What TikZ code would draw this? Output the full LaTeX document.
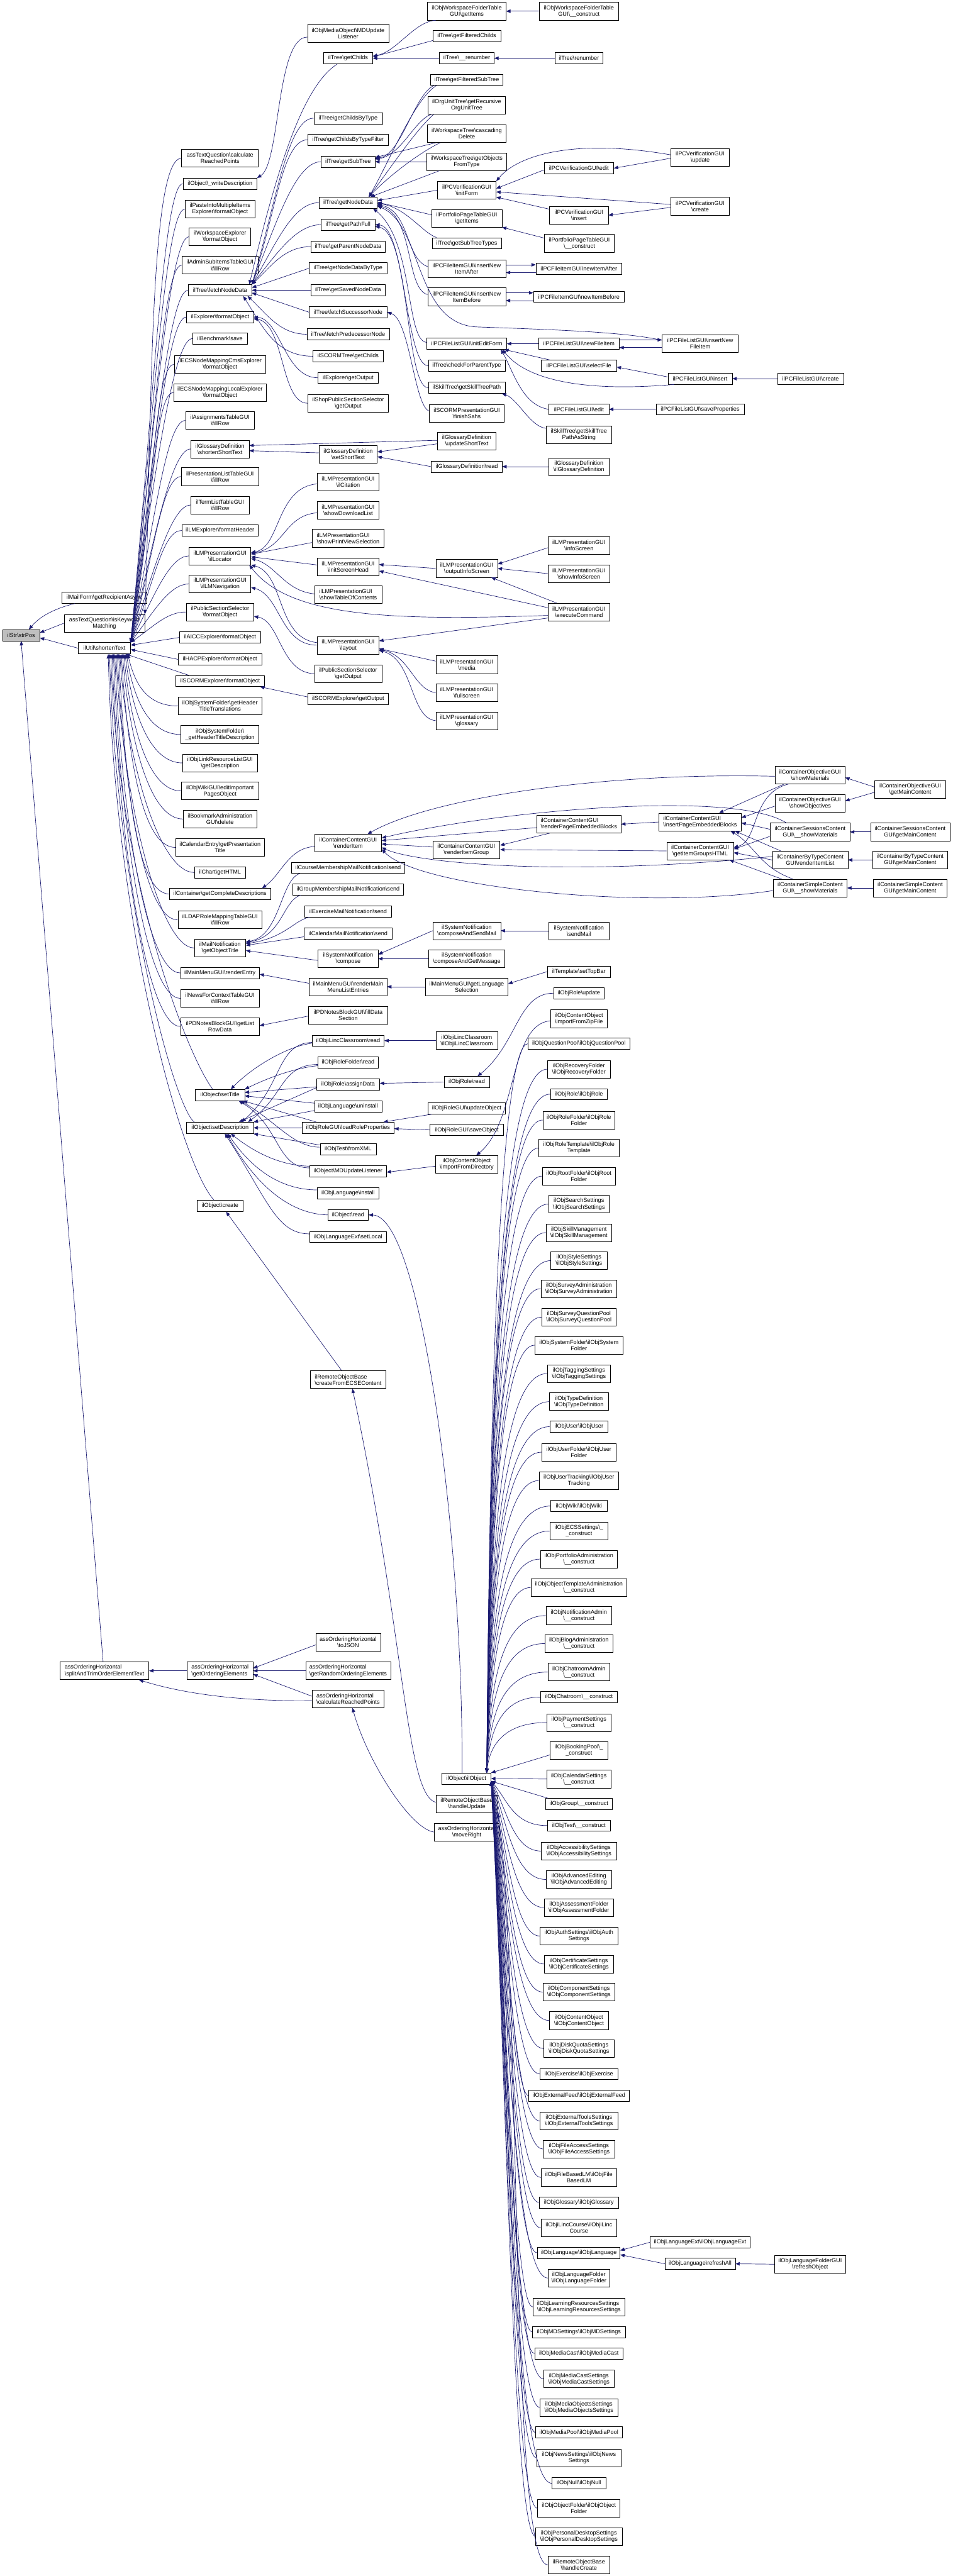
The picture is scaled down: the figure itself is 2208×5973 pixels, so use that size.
\documentclass[tikz,border=0pt]{standalone}
\usepackage{fontspec}
\setmainfont{Liberation Sans}
\usetikzlibrary{arrows.meta}
\definecolor{edgec}{HTML}{191970}
\definecolor{rootfill}{HTML}{BFBFBF}
\newcommand\bs{\textbackslash}
\tikzset{
 box/.style={draw=black, line width=0.9pt, fill=white, inner sep=2pt, align=center, text=black, font=\fontsize{13.3pt}{14.6pt}\selectfont},
 e/.style={draw=edgec, line width=1pt, {Triangle[length=10pt,width=8pt]}-},
}
\newcommand\na[5]{\node[box,minimum width=#4pt,minimum height=26pt] (#1) at (#2,#3) {#5};}
\newcommand\nb[6][center]{\node[box,align=#1,minimum width=#5pt,minimum height=41pt] (#2) at (#3,#4) {#6};}
\begin{document}
\begin{tikzpicture}[x=1pt,y=-1pt]
\fill[white] (0,0) rectangle (2208,5973);
\useasboundingbox (0,0) rectangle (2208,5973);
% ---------- root and level 1
\node[box,fill=rootfill,minimum width=86pt,minimum height=26pt] (strpos) at (49,1473) {ilStr\bs strPos};
\na{mailform}{242}{1386}{196}{ilMailForm\bs getRecipientAsync}
\nb{keyword}{242}{1445}{187}{assTextQuestion\bs isKeyword\\Matching}
\na{util}{242}{1503}{121}{ilUtil\bs shortenText}
\nb[left]{split}{242}{3874}{206}{assOrderingHorizontal\\\bs splitAndTrimOrderElementText}
% ---------- column A
\nb{calcrp}{510}{367}{178}{assTextQuestion\bs calculate\\ReachedPoints}
\na{writedesc}{510}{426}{171}{ilObject\bs \_writeDescription}
\nb{paste}{510}{485}{162}{ilPasteIntoMultipleItems\\Explorer\bs formatObject}
\nb{wsexpl}{510}{549}{143}{ilWorkspaceExplorer\\\bs formatObject}
\nb{adminsub}{510}{615}{177}{ilAdminSubItemsTableGUI\\\bs fillRow}
\na{fetchnd}{510}{673}{147}{ilTree\bs fetchNodeData}
\na{explfo}{510}{735}{155}{ilExplorer\bs formatObject}
\na{bench}{510}{785}{127}{ilBenchmark\bs save}
\nb{ecscms}{510}{845}{212}{ilECSNodeMappingCmsExplorer\\\bs formatObject}
\nb{ecsloc}{510}{910}{214}{ilECSNodeMappingLocalExplorer\\\bs formatObject}
\nb{assign}{510}{975}{160}{ilAssignmentsTableGUI\\\bs fillRow}
\nb{glshort}{510}{1041}{135}{ilGlossaryDefinition\\\bs shortenShortText}
\nb{preslist}{510}{1105}{179}{ilPresentationListTableGUI\\\bs fillRow}
\nb{termlist}{510}{1171}{135}{ilTermListTableGUI\\\bs fillRow}
\na{lmexpl}{510}{1230}{177}{ilLMExplorer\bs formatHeader}
\nb{locator}{510}{1289}{143}{ilLMPresentationGUI\\\bs ilLocator}
\nb{lmnav}{510}{1354}{143}{ilLMPresentationGUI\\\bs ilLMNavigation}
\nb{pssfo}{510}{1419}{156}{ilPublicSectionSelector\\\bs formatObject}
\na{aicc}{510}{1478}{187}{ilAICCExplorer\bs formatObject}
\na{hacp}{510}{1529}{193}{ilHACPExplorer\bs formatObject}
\na{scormfo}{510}{1579}{205}{ilSCORMExplorer\bs formatObject}
\nb{sfttrans}{510}{1637}{193}{ilObjSystemFolder\bs getHeader\\TitleTranslations}
\nb{sftdesc}{510}{1703}{181}{ilObjSystemFolder\bs \\\_getHeaderTitleDescription}
\nb{linkres}{510}{1769}{173}{ilObjLinkResourceListGUI\\\bs getDescription}
\nb{wikigui}{510}{1834}{179}{ilObjWikiGUI\bs editImportant\\PagesObject}
\nb{bookmark}{510}{1899}{171}{ilBookmarkAdministration\\GUI\bs delete}
\nb{calentry}{510}{1965}{206}{ilCalendarEntry\bs getPresentation\\Title}
\na{chart}{510}{2023}{119}{ilChart\bs getHTML}
\na{compdesc}{510}{2073}{234}{ilContainer\bs getCompleteDescriptions}
\nb{ldap}{510}{2133}{195}{ilLDAPRoleMappingTableGUI\\\bs fillRow}
\nb{mailnotif}{510}{2198}{119}{ilMailNotification\\\bs getObjectTitle}
\na{mmrender}{510}{2256}{183}{ilMainMenuGUI\bs renderEntry}
\nb{news}{510}{2315}{183}{ilNewsForContextTableGUI\\\bs fillRow}
\nb{pdnotes}{510}{2380}{183}{ilPDNotesBlockGUI\bs getList\\RowData}
\na{settitle}{510}{2539}{114}{ilObject\bs setTitle}
\na{setdesc}{510}{2615}{155}{ilObject\bs setDescription}
\na{objcreate}{510}{2796}{107}{ilObject\bs create}
\nb[left]{ordelems}{510}{3874}{153}{assOrderingHorizontal\\\bs getOrderingElements}
% ---------- column B
\nb{mdul}{807}{77}{188}{ilObjMediaObject\bs MDUpdate\\Listener}
\na{getchilds}{807}{135}{114}{ilTree\bs getChilds}
\na{gcbt}{807}{274}{159}{ilTree\bs getChildsByType}
\na{gcbtf}{807}{324}{186}{ilTree\bs getChildsByTypeFilter}
\na{getsubtree}{807}{375}{125}{ilTree\bs getSubTree}
\na{getnd}{807}{470}{135}{ilTree\bs getNodeData}
\na{getpath}{807}{521}{125}{ilTree\bs getPathFull}
\na{getparent}{807}{572}{173}{ilTree\bs getParentNodeData}
\na{getndtype}{807}{622}{180}{ilTree\bs getNodeDataByType}
\na{getsaved}{807}{673}{172}{ilTree\bs getSavedNodeData}
\na{fetchsucc}{807}{724}{180}{ilTree\bs fetchSuccessorNode}
\na{fetchpred}{807}{775}{191}{ilTree\bs fetchPredecessorNode}
\na{scormtree}{807}{826}{163}{ilSCORMTree\bs getChilds}
\na{explout}{807}{876}{139}{ilExplorer\bs getOutput}
\nb{shopout}{807}{935}{187}{ilShopPublicSectionSelector\\\bs getOutput}
\nb{glsetshort}{807}{1053}{135}{ilGlossaryDefinition\\\bs setShortText}
\nb{citation}{807}{1118}{143}{ilLMPresentationGUI\\\bs ilCitation}
\nb{dllist}{807}{1183}{143}{ilLMPresentationGUI\\\bs showDownloadList}
\nb[left]{printview}{807}{1248}{167}{ilLMPresentationGUI\\\bs showPrintViewSelection}
\nb{initscreen}{807}{1314}{143}{ilLMPresentationGUI\\\bs initScreenHead}
\nb[left]{toc}{807}{1379}{156}{ilLMPresentationGUI\\\bs showTableOfContents}
\nb{layout}{807}{1496}{143}{ilLMPresentationGUI\\\bs layout}
\nb{pssout}{807}{1562}{156}{ilPublicSectionSelector\\\bs getOutput}
\na{scormout}{807}{1620}{187}{ilSCORMExplorer\bs getOutput}
\nb{renderitem}{807}{1955}{155}{ilContainerContentGUI\\\bs renderItem}
\na{cmms}{807}{2012}{263}{ilCourseMembershipMailNotification\bs send}
\na{gmms}{807}{2062}{256}{ilGroupMembershipMailNotification\bs send}
\na{exms}{807}{2113}{202}{ilExerciseMailNotification\bs send}
\na{calms}{807}{2164}{203}{ilCalendarMailNotification\bs send}
\nb{sncomp}{807}{2223}{139}{ilSystemNotification\\\bs compose}
\nb{mmrml}{807}{2288}{180}{ilMainMenuGUI\bs renderMain\\MenuListEntries}
\nb{pdfill}{807}{2354}{184}{ilPDNotesBlockGUI\bs fillData\\Section}
\na{ilincread}{807}{2413}{167}{ilObjiLincClassroom\bs read}
\na{rfread}{807}{2463}{140}{ilObjRoleFolder\bs read}
\na{assigndata}{807}{2514}{146}{ilObjRole\bs assignData}
\na{languninst}{807}{2565}{156}{ilObjLanguage\bs uninstall}
\na{loadrole}{807}{2615}{213}{ilObjRoleGUI\bs loadRoleProperties}
\na{testxml}{807}{2665}{130}{ilObjTest\bs fromXML}
\na{objmdul}{807}{2716}{178}{ilObject\bs MDUpdateListener}
\na{langinst}{807}{2767}{143}{ilObjLanguage\bs install}
\na{objread}{807}{2817}{94}{ilObject\bs read}
\na{setlocal}{807}{2868}{178}{ilObjLanguageExt\bs setLocal}
\nb[left]{ecse}{807}{3199}{174}{ilRemoteObjectBase\\\bs createFromECSEContent}
\nb{tojson}{807}{3808}{150}{assOrderingHorizontal\\\bs toJSON}
\nb[left]{randord}{807}{3874}{197}{assOrderingHorizontal\\\bs getRandomOrderingElements}
\nb[left]{ordcalc}{807}{3939}{167}{assOrderingHorizontal\\\bs calculateReachedPoints}
% ---------- column C
\nb{wsgetitems}{1082}{26}{182}{ilObjWorkspaceFolderTable\\GUI\bs getItems}
\na{getfiltchilds}{1082}{84}{157}{ilTree\bs getFilteredChilds}
\na{urenumber}{1082}{135}{127}{ilTree\bs \_\_renumber}
\na{getfiltsub}{1082}{185}{168}{ilTree\bs getFilteredSubTree}
\nb{orgunit}{1082}{244}{180}{ilOrgUnitTree\bs getRecursive\\OrgUnitTree}
\nb{wscasc}{1082}{310}{182}{ilWorkspaceTree\bs cascading\\Delete}
\nb{wsobjtype}{1082}{375}{186}{ilWorkspaceTree\bs getObjects\\FromType}
\nb{pcvinit}{1082}{441}{136}{ilPCVerificationGUI\\\bs initForm}
\nb{ppgetitems}{1082}{506}{163}{ilPortfolioPageTableGUI\\\bs getItems}
\na{subtreetypes}{1082}{564}{160}{ilTree\bs getSubTreeTypes}
\nb{niafter}{1082}{623}{181}{ilPCFileItemGUI\bs insertNew\\ItemAfter}
\nb{nibefore}{1082}{688}{181}{ilPCFileItemGUI\bs insertNew\\ItemBefore}
\na{initedit}{1082}{797}{185}{ilPCFileListGUI\bs initEditForm}
\na{checkparent}{1082}{848}{178}{ilTree\bs checkForParentType}
\na{skillpath}{1082}{899}{178}{ilSkillTree\bs getSkillTreePath}
\nb{finishsahs}{1082}{958}{174}{ilSCORMPresentationGUI\\\bs finishSahs}
\nb{glupdate}{1082}{1023}{135}{ilGlossaryDefinition\\\bs updateShortText}
\na{glread}{1082}{1082}{164}{ilGlossaryDefinition\bs read}
\nb{outinfo}{1082}{1318}{143}{ilLMPresentationGUI\\\bs outputInfoScreen}
\nb{lmmedia}{1082}{1541}{143}{ilLMPresentationGUI\\\bs media}
\nb{lmfull}{1082}{1606}{143}{ilLMPresentationGUI\\\bs fullscreen}
\nb{lmgloss}{1082}{1671}{143}{ilLMPresentationGUI\\\bs glossary}
\nb{renderig}{1081}{1970}{156}{ilContainerContentGUI\\\bs renderItemGroup}
\nb{sncsend}{1082}{2158}{157}{ilSystemNotification\\\bs composeAndSendMail}
\nb{sncget}{1082}{2223}{176}{ilSystemNotification\\\bs composeAndGetMessage}
\nb{mmlang}{1082}{2288}{191}{ilMainMenuGUI\bs getLanguage\\Selection}
\nb{ilinccons}{1082}{2413}{143}{ilObjiLincClassroom\\\bs ilObjiLincClassroom}
\na{roleread}{1082}{2509}{105}{ilObjRole\bs read}
\na{roleupdobj}{1082}{2570}{180}{ilObjRoleGUI\bs updateObject}
\na{rolesave}{1082}{2620}{170}{ilObjRoleGUI\bs saveObject}
\nb{impdir}{1082}{2700}{145}{ilObjContentObject\\\bs importFromDirectory}
\na{ilobject}{1081}{4124}{114}{ilObject\bs ilObject}
\nb{handleupd}{1082}{4183}{143}{ilRemoteObjectBase\\\bs handleUpdate}
\nb{moveright}{1082}{4248}{151}{assOrderingHorizontal\\\bs moveRight}
% ---------- column D
\nb{wscons}{1342}{26}{184}{ilObjWorkspaceFolderTable\\GUI\bs \_\_construct}
\na{renumber}{1342}{135}{112}{ilTree\bs renumber}
\na{pcvedit}{1342}{390}{161}{ilPCVerificationGUI\bs edit}
\nb{pcvinsert}{1342}{499}{136}{ilPCVerificationGUI\\\bs insert}
\nb{ppcons}{1343}{564}{162}{ilPortfolioPageTableGUI\\\bs \_\_construct}
\na{newafter}{1342}{623}{199}{ilPCFileItemGUI\bs newItemAfter}
\na{newbefore}{1342}{688}{211}{ilPCFileItemGUI\bs newItemBefore}
\na{newfileitem}{1342}{797}{187}{ilPCFileListGUI\bs newFileItem}
\na{selectfile}{1342}{848}{174}{ilPCFileListGUI\bs selectFile}
\na{pcfledit}{1342}{949}{139}{ilPCFileListGUI\bs edit}
\nb{skillstr}{1342}{1008}{152}{ilSkillTree\bs getSkillTree\\PathAsString}
\nb{glcons}{1342}{1082}{139}{ilGlossaryDefinition\\\bs ilGlossaryDefinition}
\nb{infoscreen}{1342}{1265}{143}{ilLMPresentationGUI\\\bs infoScreen}
\nb{showinfo}{1342}{1330}{143}{ilLMPresentationGUI\\\bs showInfoScreen}
\nb{execcmd}{1342}{1419}{143}{ilLMPresentationGUI\\\bs executeCommand}
\nb[left]{rpeb}{1342}{1911}{195}{ilContainerContentGUI\\\bs renderPageEmbeddedBlocks}
\nb{sendmail}{1342}{2158}{139}{ilSystemNotification\\\bs sendMail}
\na{settopbar}{1342}{2253}{147}{ilTemplate\bs setTopBar}
\na{roleupdate}{1342}{2303}{118}{ilObjRole\bs update}
\nb{impzip}{1342}{2362}{132}{ilObjContentObject\\\bs importFromZipFile}
\na{qpool}{1342}{2420}{235}{ilObjQuestionPool\bs ilObjQuestionPool}
\nb{recovery}{1342}{2479}{145}{ilObjRecoveryFolder\\\bs ilObjRecoveryFolder}
\na{roleobj}{1342}{2537}{132}{ilObjRole\bs ilObjRole}
\nb{rolefolder}{1342}{2597}{167}{ilObjRoleFolder\bs ilObjRole\\Folder}
\nb{roletempl}{1342}{2662}{187}{ilObjRoleTemplate\bs ilObjRole\\Template}
\nb{rootfolder}{1342}{2727}{170}{ilObjRootFolder\bs ilObjRoot\\Folder}
\nb{search}{1342}{2792}{141}{ilObjSearchSettings\\\bs ilObjSearchSettings}
\nb{skillmgmt}{1342}{2858}{152}{ilObjSkillManagement\\\bs ilObjSkillManagement}
\nb{style}{1342}{2923}{130}{ilObjStyleSettings\\\bs ilObjStyleSettings}
\nb{survey}{1342}{2988}{176}{ilObjSurveyAdministration\\\bs ilObjSurveyAdministration}
\nb{surveyqp}{1342}{3054}{172}{ilObjSurveyQuestionPool\\\bs ilObjSurveyQuestionPool}
\nb{sysfolder}{1342}{3119}{204}{ilObjSystemFolder\bs ilObjSystem\\Folder}
\nb{tagging}{1342}{3185}{147}{ilObjTaggingSettings\\\bs ilObjTaggingSettings}
\nb{typedef}{1342}{3250}{136}{ilObjTypeDefinition\\\bs ilObjTypeDefinition}
\na{user}{1342}{3308}{135}{ilObjUser\bs ilObjUser}
\nb{userfolder}{1342}{3367}{172}{ilObjUserFolder\bs ilObjUser\\Folder}
\nb{usertrack}{1342}{3433}{185}{ilObjUserTracking\bs ilObjUser\\Tracking}
\na{wiki}{1342}{3492}{130}{ilObjWiki\bs ilObjWiki}
\nb{ecsset}{1342}{3550}{135}{ilObjECSSettings\bs \_\\\_construct}
\nb{portfolio}{1342}{3615}{179}{ilObjPortfolioAdministration\\\bs \_\_construct}
\nb{objtempl}{1342}{3681}{223}{ilObjObjectTemplateAdministration\\\bs \_\_construct}
\nb{notifadmin}{1342}{3746}{151}{ilObjNotificationAdmin\\\bs \_\_construct}
\nb{blogadmin}{1342}{3811}{158}{ilObjBlogAdministration\\\bs \_\_construct}
\nb{chatadmin}{1342}{3877}{143}{ilObjChatroomAdmin\\\bs \_\_construct}
\na{chatroom}{1342}{3935}{177}{ilObjChatroom\bs \_\_construct}
\nb{payment}{1342}{3994}{148}{ilObjPaymentSettings\\\bs \_\_construct}
\nb{booking}{1342}{4059}{133}{ilObjBookingPool\bs \_\\\_construct}
\nb{calset}{1342}{4125}{148}{ilObjCalendarSettings\\\bs \_\_construct}
\na{group}{1342}{4183}{154}{ilObjGroup\bs \_\_construct}
\na{testcons}{1342}{4233}{147}{ilObjTest\bs \_\_construct}
\nb{access}{1342}{4292}{175}{ilObjAccessibilitySettings\\\bs ilObjAccessibilitySettings}
\nb{advedit}{1342}{4358}{151}{ilObjAdvancedEditing\\\bs ilObjAdvancedEditing}
\nb{assessfolder}{1342}{4423}{161}{ilObjAssessmentFolder\\\bs ilObjAssessmentFolder}
\nb{auth}{1342}{4489}{180}{ilObjAuthSettings\bs ilObjAuth\\Settings}
\nb{cert}{1342}{4554}{160}{ilObjCertificateSettings\\\bs ilObjCertificateSettings}
\nb{component}{1342}{4619}{167}{ilObjComponentSettings\\\bs ilObjComponentSettings}
\nb{contentobj}{1342}{4685}{136}{ilObjContentObject\\\bs ilObjContentObject}
\nb{diskquota}{1342}{4750}{163}{ilObjDiskQuotaSettings\\\bs ilObjDiskQuotaSettings}
\na{exercise}{1342}{4809}{180}{ilObjExercise\bs ilObjExercise}
\na{extfeed}{1342}{4859}{232}{ilObjExternalFeed\bs ilObjExternalFeed}
\nb{exttools}{1342}{4918}{180}{ilObjExternalToolsSettings\\\bs ilObjExternalToolsSettings}
\nb{fileaccess}{1342}{4983}{165}{ilObjFileAccessSettings\\\bs ilObjFileAccessSettings}
\nb{filelm}{1342}{5049}{175}{ilObjFileBasedLM\bs ilObjFile\\BasedLM}
\na{glossary}{1342}{5107}{183}{ilObjGlossary\bs ilObjGlossary}
\nb{ilinccourse}{1342}{5166}{175}{ilObjiLincCourse\bs ilObjiLinc\\Course}
\na{language}{1342}{5224}{191}{ilObjLanguage\bs ilObjLanguage}
\nb{langfolder}{1342}{5282}{143}{ilObjLanguageFolder\\\bs ilObjLanguageFolder}
\nb[left]{learnres}{1342}{5349}{213}{ilObjLearningResourcesSettings\\\bs ilObjLearningResourcesSettings}
\na{mdset}{1342}{5407}{216}{ilObjMDSettings\bs ilObjMDSettings}
\na{mediacast}{1342}{5457}{205}{ilObjMediaCast\bs ilObjMediaCast}
\nb{mediacastset}{1342}{5516}{163}{ilObjMediaCastSettings\\\bs ilObjMediaCastSettings}
\nb{mediaobjset}{1342}{5582}{180}{ilObjMediaObjectsSettings\\\bs ilObjMediaObjectsSettings}
\na{mediapool}{1342}{5640}{200}{ilObjMediaPool\bs ilObjMediaPool}
\nb{newsset}{1342}{5699}{196}{ilObjNewsSettings\bs ilObjNews\\Settings}
\na{objnull}{1342}{5758}{125}{ilObjNull\bs ilObjNull}
\nb{objfolder}{1342}{5816}{191}{ilObjObjectFolder\bs ilObjObject\\Folder}
\nb{pdset}{1342}{5881}{200}{ilObjPersonalDesktopSettings\\\bs ilObjPersonalDesktopSettings}
\nb{handlecreate}{1342}{5947}{143}{ilRemoteObjectBase\\\bs handleCreate}
% ---------- column E
\nb{pcvupdate}{1623}{365}{136}{ilPCVerificationGUI\\\bs update}
\nb{pcvcreate}{1623}{478}{136}{ilPCVerificationGUI\\\bs create}
\nb{insnewfile}{1623}{797}{176}{ilPCFileListGUI\bs insertNew\\FileItem}
\na{pcflinsert}{1623}{878}{149}{ilPCFileListGUI\bs insert}
\na{saveprops}{1623}{949}{204}{ilPCFileListGUI\bs saveProperties}
\nb[left]{ipeb}{1623}{1906}{191}{ilContainerContentGUI\\\bs insertPageEmbeddedBlocks}
\nb{getighta}{1623}{1973}{155}{ilContainerContentGUI\\\bs getItemGroupsHTML}
\na{langext}{1623}{5199}{231}{ilObjLanguageExt\bs ilObjLanguageExt}
\na{refreshall}{1623}{5249}{163}{ilObjLanguage\bs refreshAll}
% ---------- column F
\na{pcflcreate}{1879}{878}{153}{ilPCFileListGUI\bs create}
\nb{objshowmat}{1878}{1797}{162}{ilContainerObjectiveGUI\\\bs showMaterials}
\nb{objshowobj}{1878}{1863}{162}{ilContainerObjectiveGUI\\\bs showObjectives}
\nb{sessshowmat}{1878}{1929}{184}{ilContainerSessionsContent\\GUI\bs \_\_showMaterials}
\nb{bytyperender}{1878}{1994}{175}{ilContainerByTypeContent\\GUI\bs renderItemList}
\nb{simpleshowmat}{1878}{2059}{171}{ilContainerSimpleContent\\GUI\bs \_\_showMaterials}
\nb{refreshobj}{1878}{5250}{165}{ilObjLanguageFolderGUI\\\bs refreshObject}
% ---------- column G
\nb{objmain}{2110}{1831}{164}{ilContainerObjectiveGUI\\\bs getMainContent}
\nb{sessmain}{2110}{1929}{184}{ilContainerSessionsContent\\GUI\bs getMainContent}
\nb{bytypemain}{2110}{1994}{174}{ilContainerByTypeContent\\GUI\bs getMainContent}
\nb{simplemain}{2110}{2059}{171}{ilContainerSimpleContent\\GUI\bs getMainContent}

% ================= edges (arrow at callee)
% root
\draw[e] ([xshift=18pt]strpos.north) .. controls (100,1420) and (150,1405) .. ([xshift=30pt]mailform.south west);
\draw[e] ([yshift=6pt]strpos.east) -- (keyword.west);
\draw[e] ([yshift=-6pt]strpos.east) -- (util.west);
\draw[e] (strpos.south) -- ([xshift=-3pt]split.north);
\draw[e] (keyword.north east) .. controls (352,1000) and (345,367) .. (calcrp.west);
% ilUtil fan above
\draw[e] (util.north east) .. controls (358,905) and (380,426) .. (writedesc.west);
\draw[e] (util.north east) .. controls (358,937) and (384,485) .. (paste.west);
\draw[e] (util.north east) .. controls (358,972) and (394,549) .. (wsexpl.west);
\draw[e] (util.north east) .. controls (358,1009) and (377,615) .. (adminsub.west);
\draw[e] (util.north east) .. controls (358,1041) and (392,673) .. (fetchnd.west);
\draw[e] (util.north east) .. controls (358,1075) and (388,735) .. (explfo.west);
\draw[e] (util.north east) .. controls (358,1102) and (402,785) .. (bench.west);
\draw[e] (util.north east) .. controls (358,1135) and (360,845) .. (ecscms.west);
\draw[e] (util.north east) .. controls (358,1171) and (358,910) .. (ecsloc.west);
\draw[e] (util.north east) .. controls (358,1207) and (386,975) .. (assign.west);
\draw[e] (util.north east) .. controls (358,1243) and (398,1041) .. (glshort.west);
\draw[e] (util.north east) .. controls (358,1278) and (376,1105) .. (preslist.west);
\draw[e] (util.north east) .. controls (358,1315) and (398,1171) .. (termlist.west);
\draw[e] (util.north east) .. controls (358,1347) and (377,1230) .. (lmexpl.west);
\draw[e] (util.north east) .. controls (358,1379) and (394,1289) .. (locator.west);
\draw[e] (util.north east) .. controls (358,1415) and (394,1354) .. (lmnav.west);
\draw[e] (util.north east) .. controls (358,1451) and (387,1419) .. (pssfo.west);
\draw[e] ([yshift=7pt]util.east) -- (aicc.west);
\draw[e] ([yshift=-3pt]util.east) -- (hacp.west);
\draw[e] ([xshift=-12pt]util.south east) -- ([xshift=30pt]scormfo.north west);
% ilUtil fan below
\draw[e] ([xshift=-7pt]util.south east) .. controls (311,1576) and (334,1637) .. (sfttrans.west);
\draw[e] ([xshift=-10pt]util.south east) .. controls (308,1609) and (340,1703) .. (sftdesc.west);
\draw[e] ([xshift=-13pt]util.south east) .. controls (305,1642) and (344,1769) .. (linkres.west);
\draw[e] ([xshift=-16pt]util.south east) .. controls (302,1675) and (341,1834) .. (wikigui.west);
\draw[e] ([xshift=-19pt]util.south east) .. controls (299,1707) and (345,1899) .. (bookmark.west);
\draw[e] ([xshift=-22pt]util.south east) .. controls (296,1740) and (327,1965) .. (calentry.west);
\draw[e] ([xshift=-25pt]util.south east) .. controls (293,1769) and (371,2023) .. (chart.west);
\draw[e] ([xshift=-28pt]util.south east) .. controls (290,1794) and (313,2073) .. (compdesc.west);
\draw[e] ([xshift=-31pt]util.south east) .. controls (287,1824) and (333,2133) .. (ldap.west);
\draw[e] ([xshift=-34pt]util.south east) .. controls (284,1857) and (371,2198) .. (mailnotif.west);
\draw[e] ([xshift=-37pt]util.south east) .. controls (281,1886) and (339,2256) .. (mmrender.west);
\draw[e] ([xshift=-40pt]util.south east) .. controls (278,1915) and (339,2315) .. (news.west);
\draw[e] ([xshift=-43pt]util.south east) .. controls (275,1948) and (339,2380) .. (pdnotes.west);
\draw[e] ([xshift=-46pt]util.south east) .. controls (272,2030) and (430,2440) .. ([xshift=-17pt]settitle.north);
\draw[e] ([xshift=-49pt]util.south east) .. controls (269,2060) and (400,2560) .. ([xshift=18pt]setdesc.north west);
\draw[e] ([xshift=-52pt]util.south east) .. controls (266,2150) and (420,2700) .. ([xshift=-14pt]objcreate.north);
% fetchNodeData fan
\draw[e] ([xshift=-6pt]fetchnd.north east) .. controls (640,400) and (700,200) .. ([xshift=-25pt]getchilds.south);
\draw[e] (fetchnd.north east) .. controls (640,468) and (667,274) .. (gcbt.west);
\draw[e] (fetchnd.north east) .. controls (640,492) and (654,324) .. (gcbtf.west);
\draw[e] (fetchnd.north east) .. controls (640,518) and (685,375) .. (getsubtree.west);
\draw[e] (fetchnd.north east) .. controls (640,565) and (679,470) .. (getnd.west);
\draw[e] (fetchnd.north east) .. controls (640,591) and (685,521) .. (getpath.west);
\draw[e] (fetchnd.north east) .. controls (630,616) and (660,572) .. (getparent.west);
\draw[e] ([yshift=6pt]fetchnd.east) -- (getndtype.west);
\draw[e] (fetchnd.east) -- (getsaved.west);
\draw[e] ([yshift=-6pt]fetchnd.east) -- (fetchsucc.west);
\draw[e] ([xshift=-10pt]fetchnd.south east) .. controls (620,730) and (650,775) .. (fetchpred.west);
\draw[e] ([xshift=-20pt]fetchnd.south east) .. controls (610,760) and (640,826) .. (scormtree.west);
% others col A
\draw[e] (writedesc.north east) .. controls (650,380) and (640,86) .. ([yshift=-9pt]mdul.west);
\draw[e] (explfo.east) .. controls (650,740) and (660,876) .. (explout.west);
\draw[e] ([yshift=-4pt]explfo.east) .. controls (660,750) and (650,935) .. (shopout.west);
% getChilds
\draw[e] ([yshift=5pt]getchilds.east) .. controls (920,120) and (960,50) .. ([xshift=20pt]wsgetitems.south west);
\draw[e] ([yshift=3pt]getchilds.east) -- ([yshift=-10pt]getfiltchilds.west);
\draw[e] (getchilds.east) -- (urenumber.west);
\draw[e] (urenumber.east) -- (renumber.west);
\draw[e] (wsgetitems.east) -- (wscons.west);
% getSubTree
\draw[e] ([yshift=8pt]getsubtree.east) .. controls (930,360) and (960,220) .. ([xshift=8pt]getfiltsub.south west);
\draw[e] ([yshift=6pt]getsubtree.east) .. controls (930,360) and (960,280) .. ([xshift=8pt]orgunit.south west);
\draw[e] ([yshift=10pt]getsubtree.east) -- ([xshift=20pt]wscasc.south west);
\draw[e] (getsubtree.east) -- (wsobjtype.west);
% getNodeData
\draw[e] ([xshift=-20pt]getnd.north east) .. controls (900,380) and (960,230) .. ([xshift=14pt]getfiltsub.south west);
\draw[e] ([xshift=-20pt]getnd.north east) .. controls (905,390) and (965,300) .. ([xshift=14pt]orgunit.south west);
\draw[e] ([xshift=-20pt]getnd.north east) .. controls (910,400) and (980,350) .. ([xshift=30pt]wscasc.south west);
\draw[e] ([xshift=-16pt]getnd.north east) -- ([xshift=30pt]wsobjtype.south west);
\draw[e] ([yshift=5pt]getnd.east) -- (pcvinit.west);
\draw[e] ([yshift=1pt]getnd.east) -- ([yshift=8pt]ppgetitems.west);
\draw[e] ([yshift=-2pt]getnd.east) .. controls (940,480) and (980,540) .. ([xshift=10pt]subtreetypes.north west);
\draw[e] ([yshift=-4pt]getnd.east) .. controls (950,490) and (940,600) .. ([yshift=5pt]niafter.west);
\draw[e] ([yshift=-6pt]getnd.east) .. controls (960,500) and (940,670) .. ([yshift=5pt]nibefore.west);
\draw[e] ([yshift=-8pt]getnd.east) .. controls (980,520) and (960,750) .. (1104,758) .. controls (1300,765) and (1450,770) .. ([yshift=8pt]insnewfile.west);
\draw[e] ([xshift=-10pt]getnd.south east) .. controls (960,560) and (940,790) .. ([yshift=3pt]initedit.west);
% getPathFull, fetchSuccessorNode
\draw[e] (getpath.east) .. controls (940,525) and (940,848) .. (checkparent.west);
\draw[e] ([yshift=-4pt]getpath.east) .. controls (950,540) and (940,899) .. (skillpath.west);
\draw[e] (fetchsucc.east) .. controls (950,740) and (960,940) .. ([yshift=5pt]finishsahs.west);
% PC verification
\draw[e] (pcvinit.north east) .. controls (1200,360) and (1330,320) .. ([yshift=6pt]pcvupdate.west);
\draw[e] ([yshift=4pt]pcvinit.east) -- ([yshift=-4pt]pcvedit.west);
\draw[e] ([yshift=-4pt]pcvinit.east) -- ([yshift=4pt]pcvcreate.west);
\draw[e] ([yshift=-16pt]pcvinit.east) -- ([yshift=14pt]pcvinsert.west);
\draw[e] (pcvedit.east) -- ([yshift=-2pt]pcvupdate.west);
\draw[e] (pcvinsert.east) -- ([yshift=-3pt]pcvcreate.west);
\draw[e] (ppgetitems.south east) -- ([yshift=12pt]ppcons.west);
% PC file items
\draw[e] ([yshift=9pt]newafter.west) -- ([yshift=9pt]niafter.east);
\draw[e] ([yshift=-9pt]niafter.east) -- ([yshift=-9pt]newafter.west);
\draw[e] ([yshift=9pt]newbefore.west) -- ([yshift=9pt]nibefore.east);
\draw[e] ([yshift=-9pt]nibefore.east) -- ([yshift=-9pt]newbefore.west);
\draw[e] ([yshift=9pt]insnewfile.west) -- ([yshift=9pt]newfileitem.east);
\draw[e] ([yshift=-9pt]newfileitem.east) -- ([yshift=-9pt]insnewfile.west);
\draw[e] (initedit.east) -- (newfileitem.west);
\draw[e] ([xshift=-6pt]initedit.south east) -- ([xshift=20pt]selectfile.north west);
\draw[e] ([xshift=-10pt]initedit.south east) .. controls (1220,880) and (1350,910) .. ([xshift=15pt]pcflinsert.south west);
\draw[e] ([xshift=-14pt]initedit.south east) .. controls (1190,860) and (1210,940) .. (pcfledit.west);
\draw[e] ([yshift=-3pt]selectfile.east) -- ([yshift=4pt]pcflinsert.west);
\draw[e] (pcflinsert.east) -- (pcflcreate.west);
\draw[e] (pcfledit.east) -- (saveprops.west);
\draw[e] ([xshift=-8pt]skillpath.south east) .. controls (1200,925) and (1230,990) .. ([yshift=-6pt]skillstr.north west);
% glossary
\draw[e] ([yshift=8pt]glshort.east) -- ([yshift=2pt]glupdate.west);
\draw[e] ([yshift=-4pt]glshort.east) -- ([yshift=3pt]glsetshort.west);
\draw[e] ([yshift=5pt]glsetshort.east) -- ([yshift=-6pt]glupdate.west);
\draw[e] ([yshift=-6pt]glsetshort.east) -- (glread.west);
\draw[e] (glread.east) -- (glcons.west);
% LM presentation
\draw[e] ([yshift=8pt]locator.east) .. controls (650,1270) and (640,1130) .. ([yshift=-4pt]citation.west);
\draw[e] ([yshift=6pt]locator.east) .. controls (660,1270) and (660,1195) .. ([yshift=-6pt]dllist.west);
\draw[e] ([yshift=4pt]locator.east) -- ([yshift=-10pt]printview.west);
\draw[e] ([yshift=-2pt]locator.east) -- ([yshift=4pt]initscreen.west);
\draw[e] ([yshift=-6pt]locator.east) .. controls (640,1310) and (660,1370) .. ([yshift=2pt]toc.west);
\draw[e] (locator.south east) .. controls (660,1330) and (640,1480) .. ([yshift=6pt]layout.west);
\draw[e] ([xshift=-4pt]locator.south east) .. controls (670,1430) and (900,1440) .. ([yshift=-8pt]execcmd.west);
\draw[e] ([yshift=-8pt]lmnav.east) .. controls (650,1380) and (650,1496) .. (layout.west);
\draw[e] ([yshift=5pt]initscreen.east) -- (outinfo.west);
\draw[e] ([yshift=-10pt]initscreen.east) -- ([yshift=10pt]execcmd.west);
\draw[e] ([yshift=10pt]outinfo.east) -- ([yshift=-5pt]infoscreen.west);
\draw[e] (outinfo.east) -- (showinfo.west);
\draw[e] ([xshift=-15pt]outinfo.south east) -- ([xshift=20pt]execcmd.north west);
\draw[e] ([yshift=-8pt]layout.east) -- ([yshift=8pt]lmmedia.west);
\draw[e] ([yshift=-10pt]layout.east) .. controls (950,1520) and (960,1600) .. (lmfull.west);
\draw[e] ([yshift=-12pt]layout.east) .. controls (960,1530) and (950,1665) .. (lmgloss.west);
\draw[e] ([yshift=10pt]layout.east) -- ([yshift=-14pt]execcmd.west);
\draw[e] ([yshift=-10pt]pssfo.east) .. controls (650,1440) and (650,1560) .. (pssout.west);
\draw[e] ([xshift=-10pt]scormfo.south east) -- ([yshift=4pt]scormout.west);
% containers
\draw[e] ([xshift=-20pt]compdesc.north east) .. controls (650,2030) and (670,1965) .. ([yshift=-8pt]renderitem.west);
\draw[e] ([xshift=45pt]renderitem.north) .. controls (1000,1850) and (1400,1790) .. ([yshift=-3pt]objshowmat.west);
\draw[e] ([yshift=12pt]renderitem.east) .. controls (1150,1880) and (1700,1830) .. ([xshift=-55pt]sessshowmat.north);
\draw[e] ([yshift=6pt]renderitem.east) -- ([yshift=-8pt]rpeb.west);
\draw[e] ([yshift=-2pt]renderitem.east) -- ([yshift=6pt]renderig.west);
\draw[e] ([yshift=-10pt]renderitem.east) .. controls (960,2000) and (1300,2035) .. ([yshift=8pt]bytyperender.west);
\draw[e] ([yshift=-14pt]renderitem.east) .. controls (970,2060) and (1500,2110) .. ([yshift=-6pt]simpleshowmat.west);
\draw[e] ([yshift=10pt]renderig.east) -- ([xshift=30pt]rpeb.south west);
\draw[e] (renderig.east) -- (getighta.west);
\draw[e] (rpeb.east) -- (ipeb.west);
\draw[e] ([xshift=44pt]ipeb.north) -- ([xshift=-60pt]objshowmat.south);
\draw[e] ([yshift=10pt]ipeb.east) -- ([yshift=-6pt]objshowobj.west);
\draw[e] ([yshift=-2pt]ipeb.east) -- ([yshift=6pt]sessshowmat.west);
\draw[e] ([xshift=-15pt]ipeb.south east) -- ([xshift=20pt]bytyperender.north west);
\draw[e] ([xshift=-25pt]ipeb.south east) .. controls (1750,1960) and (1760,2010) .. ([xshift=-40pt]simpleshowmat.north);
\draw[e] ([yshift=8pt]getighta.east) .. controls (1760,1950) and (1740,1840) .. ([xshift=-50pt]objshowmat.south);
\draw[e] ([yshift=4pt]getighta.east) -- ([yshift=-10pt]sessshowmat.west);
\draw[e] ([yshift=-4pt]getighta.east) -- (bytyperender.west);
\draw[e] ([xshift=-10pt]getighta.south east) -- ([xshift=20pt]simpleshowmat.north west);
\draw[e] ([yshift=-6pt]objshowmat.east) -- ([yshift=6pt]objmain.west);
\draw[e] ([yshift=6pt]objshowobj.east) -- ([yshift=-6pt]objmain.west);
\draw[e] (sessshowmat.east) -- (sessmain.west);
\draw[e] (bytyperender.east) -- (bytypemain.west);
\draw[e] (simpleshowmat.east) -- (simplemain.west);
% mail notifications
\draw[e] ([yshift=14pt]mailnotif.east) .. controls (650,2170) and (650,2040) .. ([xshift=20pt]cmms.south west);
\draw[e] ([yshift=12pt]mailnotif.east) .. controls (655,2170) and (655,2090) .. ([xshift=18pt]gmms.south west);
\draw[e] ([yshift=10pt]mailnotif.east) .. controls (660,2175) and (680,2135) .. ([xshift=12pt]exms.south west);
\draw[e] ([yshift=6pt]mailnotif.east) -- ([yshift=-8pt]calms.west);
\draw[e] ([yshift=-6pt]mailnotif.east) -- ([yshift=-4pt]sncomp.west);
\draw[e] ([yshift=10pt]sncomp.east) -- (sncsend.west);
\draw[e] (sncomp.east) -- (sncget.west);
\draw[e] (sncsend.east) -- (sendmail.west);
\draw[e] ([yshift=-3pt]mmrender.east) -- ([yshift=8pt]mmrml.west);
\draw[e] (mmrml.east) -- (mmlang.west);
\draw[e] ([yshift=7pt]mmlang.east) -- (settopbar.west);
\draw[e] ([yshift=2pt]pdnotes.east) -- ([yshift=-2pt]pdfill.west);
% setTitle
\draw[e] ([xshift=25pt]settitle.north) .. controls (590,2470) and (670,2425) .. ([yshift=-6pt]ilincread.west);
\draw[e] (settitle.north east) .. controls (620,2500) and (680,2477) .. ([yshift=-8pt]rfread.west);
\draw[e] ([yshift=6pt]settitle.east) -- ([yshift=-6pt]assigndata.west);
\draw[e] ([yshift=-2pt]settitle.east) -- ([yshift=7pt]languninst.west);
\draw[e] ([xshift=-4pt]settitle.south east) -- ([xshift=33pt]loadrole.north west);
\draw[e] ([xshift=-10pt]settitle.south east) .. controls (640,2600) and (680,2660) .. ([yshift=5pt]testxml.west);
\draw[e] ([xshift=-14pt]settitle.south east) .. controls (650,2610) and (640,2708) .. ([yshift=8pt]objmdul.west);
% setDescription
\draw[e] ([xshift=50pt]setdesc.north) .. controls (655,2520) and (640,2420) .. ([yshift=-4pt]ilincread.west);
\draw[e] ([xshift=65pt]setdesc.north) .. controls (660,2540) and (650,2470) .. ([yshift=-5pt]rfread.west);
\draw[e] ([xshift=44pt]setdesc.north) -- ([yshift=-8pt]assigndata.west);
\draw[e] (setdesc.north east) -- ([yshift=-10pt]languninst.west);
\draw[e] (setdesc.east) -- (loadrole.west);
\draw[e] ([yshift=-14pt]setdesc.east) -- ([yshift=10pt]testxml.west);
\draw[e] ([xshift=25pt]setdesc.south) .. controls (600,2680) and (660,2703) .. ([yshift=12pt]objmdul.west);
\draw[e] ([xshift=18pt]setdesc.south) .. controls (590,2720) and (660,2759) .. ([yshift=8pt]langinst.west);
\draw[e] ([xshift=15pt]setdesc.south) .. controls (600,2760) and (680,2815) .. (objread.west);
\draw[e] ([xshift=11pt]setdesc.south) .. controls (620,2780) and (640,2861) .. ([yshift=7pt]setlocal.west);
% objects
\draw[e] (ilincread.east) -- (ilinccons.west);
\draw[e] ([yshift=2pt]assigndata.east) -- (roleread.west);
\draw[e] ([xshift=25pt]roleread.north) .. controls (1200,2420) and (1200,2303) .. (roleupdate.west);
\draw[e] ([xshift=-25pt]loadrole.north east) -- ([xshift=10pt]roleupdobj.south west);
\draw[e] ([yshift=-2pt]loadrole.east) -- (rolesave.west);
\draw[e] ([yshift=-2pt]objmdul.east) -- ([yshift=-4pt]impdir.west);
\draw[e] ([xshift=22pt]impdir.north) .. controls (1200,2600) and (1180,2375) .. ([yshift=-5pt]impzip.west);
\draw[e] (objread.east) .. controls (980,2820) and (1075,3600) .. ([xshift=-10pt]ilobject.north);
\draw[e] ([xshift=14pt]objcreate.south) -- ([xshift=-15pt]ecse.north);
\draw[e] ([xshift=10pt]ecse.south) .. controls (940,3800) and (940,4160) .. ([yshift=4pt]handleupd.west);
\draw[e] (handleupd.south east) .. controls (1210,4600) and (1180,5950) .. (handlecreate.west);
% ilObject constructors, callers above
\draw[e] ([xshift=-10pt]ilobject.north east) .. controls (1136,3097) and (1165,2420) .. (qpool.west);
\draw[e] ([xshift=-10pt]ilobject.north east) .. controls (1136,3132) and (1165,2479) .. (recovery.west);
\draw[e] ([xshift=-10pt]ilobject.north east) .. controls (1136,3167) and (1165,2537) .. (roleobj.west);
\draw[e] ([xshift=-10pt]ilobject.north east) .. controls (1136,3203) and (1165,2597) .. (rolefolder.west);
\draw[e] ([xshift=-10pt]ilobject.north east) .. controls (1136,3242) and (1165,2662) .. (roletempl.west);
\draw[e] ([xshift=-10pt]ilobject.north east) .. controls (1136,3281) and (1165,2727) .. (rootfolder.west);
\draw[e] ([xshift=-10pt]ilobject.north east) .. controls (1136,3320) and (1165,2792) .. (search.west);
\draw[e] ([xshift=-10pt]ilobject.north east) .. controls (1136,3360) and (1165,2858) .. (skillmgmt.west);
\draw[e] ([xshift=-10pt]ilobject.north east) .. controls (1136,3399) and (1165,2923) .. (style.west);
\draw[e] ([xshift=-10pt]ilobject.north east) .. controls (1136,3438) and (1165,2988) .. (survey.west);
\draw[e] ([xshift=-10pt]ilobject.north east) .. controls (1136,3477) and (1165,3054) .. (surveyqp.west);
\draw[e] ([xshift=-10pt]ilobject.north east) .. controls (1136,3516) and (1165,3119) .. (sysfolder.west);
\draw[e] ([xshift=-10pt]ilobject.north east) .. controls (1136,3556) and (1165,3185) .. (tagging.west);
\draw[e] ([xshift=-10pt]ilobject.north east) .. controls (1136,3595) and (1165,3250) .. (typedef.west);
\draw[e] ([xshift=-10pt]ilobject.north east) .. controls (1136,3630) and (1165,3308) .. (user.west);
\draw[e] ([xshift=-10pt]ilobject.north east) .. controls (1136,3665) and (1165,3367) .. (userfolder.west);
\draw[e] ([xshift=-10pt]ilobject.north east) .. controls (1136,3705) and (1165,3433) .. (usertrack.west);
\draw[e] ([xshift=-10pt]ilobject.north east) .. controls (1136,3740) and (1165,3492) .. (wiki.west);
\draw[e] ([xshift=-10pt]ilobject.north east) .. controls (1136,3775) and (1165,3550) .. (ecsset.west);
\draw[e] ([xshift=-10pt]ilobject.north east) .. controls (1136,3814) and (1165,3615) .. (portfolio.west);
\draw[e] ([xshift=-10pt]ilobject.north east) .. controls (1136,3853) and (1165,3681) .. (objtempl.west);
\draw[e] ([xshift=-10pt]ilobject.north east) .. controls (1136,3892) and (1165,3746) .. (notifadmin.west);
\draw[e] ([xshift=-10pt]ilobject.north east) .. controls (1136,3931) and (1165,3811) .. (blogadmin.west);
\draw[e] ([xshift=-10pt]ilobject.north east) .. controls (1136,3971) and (1165,3877) .. (chatadmin.west);
\draw[e] ([xshift=-10pt]ilobject.north east) .. controls (1136,4006) and (1165,3935) .. (chatroom.west);
\draw[e] ([xshift=-10pt]ilobject.north east) .. controls (1136,4041) and (1175,3994) .. (payment.west);
\draw[e] (ilobject.north east) -- ([yshift=-10pt]booking.west);
\draw[e] (ilobject.east) -- (calset.west);
\draw[e] ([yshift=-6pt]ilobject.east) -- ([xshift=6pt]group.north west);
% ilObject constructors, callers below
\draw[e] ([yshift=-6pt]ilobject.east) .. controls (1175,4171) and (1190,4233) .. (testcons.west);
\draw[e] ([yshift=-6pt]ilobject.east) .. controls (1175,4195) and (1190,4292) .. (access.west);
\draw[e] ([yshift=-6pt]ilobject.east) .. controls (1175,4221) and (1190,4358) .. (advedit.west);
\draw[e] ([yshift=-6pt]ilobject.east) .. controls (1175,4247) and (1190,4423) .. (assessfolder.west);
\draw[e] ([yshift=-6pt]ilobject.east) .. controls (1175,4274) and (1190,4489) .. (auth.west);
\draw[e] ([yshift=-6pt]ilobject.east) .. controls (1175,4300) and (1190,4554) .. (cert.west);
\draw[e] ([yshift=-6pt]ilobject.east) .. controls (1175,4326) and (1190,4619) .. (component.west);
\draw[e] ([yshift=-6pt]ilobject.east) .. controls (1175,4352) and (1190,4685) .. (contentobj.west);
\draw[e] ([yshift=-6pt]ilobject.east) .. controls (1175,4378) and (1190,4750) .. (diskquota.west);
\draw[e] ([yshift=-6pt]ilobject.east) .. controls (1175,4402) and (1190,4809) .. (exercise.west);
\draw[e] ([yshift=-6pt]ilobject.east) .. controls (1175,4422) and (1190,4859) .. (extfeed.west);
\draw[e] ([yshift=-6pt]ilobject.east) .. controls (1175,4445) and (1190,4918) .. (exttools.west);
\draw[e] ([yshift=-6pt]ilobject.east) .. controls (1175,4471) and (1190,4983) .. (fileaccess.west);
\draw[e] ([yshift=-6pt]ilobject.east) .. controls (1175,4498) and (1190,5049) .. (filelm.west);
\draw[e] ([yshift=-6pt]ilobject.east) .. controls (1175,4521) and (1190,5107) .. (glossary.west);
\draw[e] ([yshift=-6pt]ilobject.east) .. controls (1175,4544) and (1190,5166) .. (ilinccourse.west);
\draw[e] ([yshift=-6pt]ilobject.east) .. controls (1175,4568) and (1190,5224) .. (language.west);
\draw[e] ([yshift=-6pt]ilobject.east) .. controls (1175,4591) and (1190,5282) .. (langfolder.west);
\draw[e] ([yshift=-6pt]ilobject.east) .. controls (1175,4618) and (1190,5349) .. (learnres.west);
\draw[e] ([yshift=-6pt]ilobject.east) .. controls (1175,4641) and (1190,5407) .. (mdset.west);
\draw[e] ([yshift=-6pt]ilobject.east) .. controls (1175,4661) and (1190,5457) .. (mediacast.west);
\draw[e] ([yshift=-6pt]ilobject.east) .. controls (1175,4684) and (1190,5516) .. (mediacastset.west);
\draw[e] ([yshift=-6pt]ilobject.east) .. controls (1175,4711) and (1190,5582) .. (mediaobjset.west);
\draw[e] ([yshift=-6pt]ilobject.east) .. controls (1175,4734) and (1190,5640) .. (mediapool.west);
\draw[e] ([yshift=-6pt]ilobject.east) .. controls (1175,4758) and (1190,5699) .. (newsset.west);
\draw[e] ([yshift=-6pt]ilobject.east) .. controls (1175,4781) and (1190,5758) .. (objnull.west);
\draw[e] ([yshift=-6pt]ilobject.east) .. controls (1175,4804) and (1190,5816) .. (objfolder.west);
\draw[e] ([yshift=-6pt]ilobject.east) .. controls (1175,4830) and (1190,5881) .. (pdset.west);
% language
\draw[e] ([yshift=6pt]language.east) -- (langext.west);
\draw[e] ([yshift=-4pt]language.east) -- (refreshall.west);
\draw[e] (refreshall.east) -- (refreshobj.west);
% ordering
\draw[e] (split.east) -- (ordelems.west);
\draw[e] ([xshift=80pt]split.south) .. controls (450,3935) and (600,3945) .. ([yshift=-4pt]ordcalc.west);
\draw[e] ([yshift=6pt]ordelems.east) -- ([yshift=-6pt]tojson.west);
\draw[e] (ordelems.east) -- (randord.west);
\draw[e] ([yshift=-8pt]ordelems.east) -- ([yshift=6pt]ordcalc.west);
\draw[e] ([xshift=10pt]ordcalc.south) .. controls (850,4080) and (950,4240) .. (moveright.west);
\end{tikzpicture}
\end{document}
